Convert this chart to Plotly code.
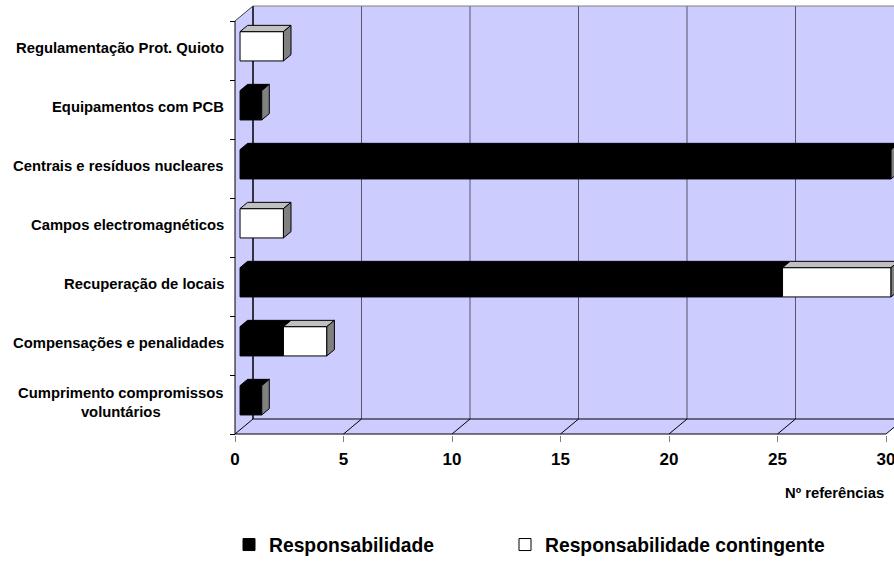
import plotly.graph_objects as go

# ---- data -------------------------------------------------------------
categorias = [
    "Regulamentação Prot. Quioto",
    "Equipamentos com PCB",
    "Centrais e resíduos nucleares",
    "Campos electromagnéticos",
    "Recuperação de locais",
    "Compensações e penalidades",
    "Cumprimento compromissos<br>voluntários",
]
responsabilidade = [0, 1, 30, 0, 25, 2, 1]
contingente = [2, 0, 0, 2, 5, 2, 0]
nomes_series = ["Responsabilidade", "Responsabilidade contingente"]
x_ticks = [0, 5, 10, 15, 20, 25, 30]
titulo_x = "Nº referências"

# ---- page geometry ----------------------------------------------------
W, H = 894, 561
AXIS_LEFT_PX = 235          # pixel of value 0 on the front axis
AXIS_BOTTOM_PX = 434        # pixel of the front floor edge
PX_X = 651 / 30             # pixels per unit along x
PX_Y = 59                   # pixels per category
L = 225
T = 5
B = H - (AXIS_BOTTOM_PX + 1)
plot_w = W - L
plot_h = H - T - B

XMIN = -(AXIS_LEFT_PX - L) / PX_X
XMAX = XMIN + plot_w / PX_X
YMIN = -0.5 - 1 / PX_Y
YMAX = YMIN + plot_h / PX_Y

# 3-D depth of the chart box and of the bars (in axis units)
DX = 18 / PX_X
DY = 15 / PX_Y
F_FRONT = 0.28              # bar front face position inside the depth
F_SPAN = 0.42               # bar thickness as a share of the depth
BAR_H = 29.3 / PX_Y
bdx, bdy = DX * F_SPAN, DY * F_SPAN
X0 = DX * F_FRONT

n = len(categorias)
ypos = [n - 1 - i for i in range(n)]
yc = [p + DY * F_FRONT for p in ypos]
top = n - 0.5
bot = -0.5

FONT = "Liberation Sans, Arial, sans-serif"
WALL = "#CCCCFF"
GRID = "#55556B"

fig = go.Figure()

# ---- walls, floor and gridlines (drawn beneath the bars) -------------
shapes = []


def poly(pts, fill):
    path = "M " + " L ".join(f"{x},{y}" for x, y in pts) + " Z"
    return dict(type="path", path=path, xref="x", yref="y", layer="below",
                fillcolor=fill, line=dict(width=0))


def seg(x1, y1, x2, y2, color, width=1):
    return dict(type="line", x0=x1, y0=y1, x1=x2, y1=y2, xref="x", yref="y",
                layer="below", line=dict(color=color, width=width))


xr = XMAX + 2
shapes.append(poly([(DX, bot + DY), (xr, bot + DY), (xr, top + DY), (DX, top + DY)], WALL))
shapes.append(poly([(0, bot), (DX, bot + DY), (DX, top + DY), (0, top)], WALL))
shapes.append(poly([(0, bot), (x_ticks[-1], bot), (x_ticks[-1] + DX, bot + DY), (DX, bot + DY)], WALL))
for k in x_ticks[1:]:
    shapes.append(seg(k + DX, bot + DY, k + DX, top + DY, GRID))
for k in x_ticks:
    shapes.append(seg(k, bot, k + DX, bot + DY, "black"))
shapes.append(seg(DX, bot + DY, xr, bot + DY, "black"))
shapes.append(seg(DX, top + DY, xr, top + DY, "#808080"))
shapes.append(seg(DX, bot + DY, DX, top + DY, "black", 1.5))
shapes.append(seg(0, top, DX, top + DY, "#404040"))
shapes.append(seg(0, bot, 0, top, "black"))
shapes.append(seg(0, bot, x_ticks[-1], bot, "black"))

# ---- bar front faces ---------------------------------------------------
fig.add_trace(go.Bar(
    y=yc, x=[v if v > 0 else None for v in responsabilidade],
    base=[X0] * n, orientation="h", width=BAR_H, name=nomes_series[0],
    marker=dict(color="black", line=dict(color="black", width=1)),
    hoverinfo="skip", legend="legend",
))
fig.add_trace(go.Bar(
    y=yc, x=[v if v > 0 else None for v in contingente],
    base=[X0 + r for r in responsabilidade], orientation="h", width=BAR_H,
    name=nomes_series[1],
    marker=dict(color="white", line=dict(color="black", width=1)),
    hoverinfo="skip", legend="legend2",
))

# ---- bar top and side faces -------------------------------------------
tops_dark = ([], [])
tops_light = ([], [])
sides = ([], [])
for r, c, y in zip(responsabilidade, contingente, yc):
    yt, yb = y + BAR_H / 2, y - BAR_H / 2
    for a, b, store in ((0, r, tops_dark), (r, r + c, tops_light)):
        if b > a:
            xa, xb = X0 + a, X0 + b
            store[0].extend([xa, xb, xb + bdx, xa + bdx, xa, None])
            store[1].extend([yt, yt, yt + bdy, yt + bdy, yt, None])
    if r + c > 0:
        xe = X0 + r + c
        sides[0].extend([xe, xe + bdx, xe + bdx, xe, xe, None])
        sides[1].extend([yb, yb + bdy, yt + bdy, yt, yb, None])

for (xs, ys), col in ((tops_dark, "black"), (tops_light, "#C0C0C0"), (sides, "#808080")):
    fig.add_trace(go.Scatter(
        x=xs, y=ys, mode="lines", fill="toself", fillcolor=col,
        line=dict(color="black", width=1), showlegend=False, hoverinfo="skip",
    ))

# ---- category labels ------------------------------------------------------
annotations = []
for lab, p in zip(categorias, ypos):
    annotations.append(dict(
        text=lab, xref="paper", x=0, xanchor="right", xshift=1,
        yref="y", y=p + 0.04, yanchor="middle", align="center", showarrow=False,
        font=dict(family=FONT, size=14.8, color="black", weight="bold"),
    ))
annotations.append(dict(
    text=titulo_x, xref="x", x=x_ticks[-1], xanchor="right",
    yref="paper", y=0, yshift=-58, yanchor="middle", showarrow=False,
    font=dict(family=FONT, size=14.8, color="black", weight="bold"),
))

legend_font = dict(family=FONT, size=19.3, color="black", weight="bold")
legend_common = dict(orientation="h", xref="container", yref="container",
                     xanchor="left", y=1 - 545 / H, yanchor="middle",
                     font=legend_font, bgcolor="rgba(0,0,0,0)")

fig.update_layout(
    template="none",
    width=W, height=H,
    margin=dict(l=L, r=0, t=T, b=B, pad=0),
    paper_bgcolor="white", plot_bgcolor="white",
    barmode="overlay",
    shapes=shapes,
    annotations=annotations,
    showlegend=True,
    legend=dict(x=229 / W, **legend_common),
    legend2=dict(x=505 / W, **legend_common),
    xaxis=dict(
        range=[XMIN, XMAX], tickmode="array", tickvals=x_ticks,
        ticks="outside", ticklen=6, tickcolor="#808080", tickwidth=1,
        showgrid=False, zeroline=False, showline=False, automargin=False,
        ticklabelstandoff=3, ticklabeloverflow="allow",
        tickfont=dict(family=FONT, size=17, color="black", weight="bold"),
        fixedrange=True,
    ),
    yaxis=dict(
        range=[YMIN, YMAX], anchor="free",
        position=(AXIS_LEFT_PX - L) / plot_w,
        tickmode="array", tickvals=[], showticklabels=False, ticks="",
        minor=dict(tickmode="array", tickvals=[i - 0.5 for i in range(n + 1)],
                   ticks="outside", ticklen=5, tickcolor="black", tickwidth=1,
                   showgrid=False),
        showgrid=False, zeroline=False, showline=False, automargin=False,
        fixedrange=True,
    ),
)

fig.write_html("out.html")
